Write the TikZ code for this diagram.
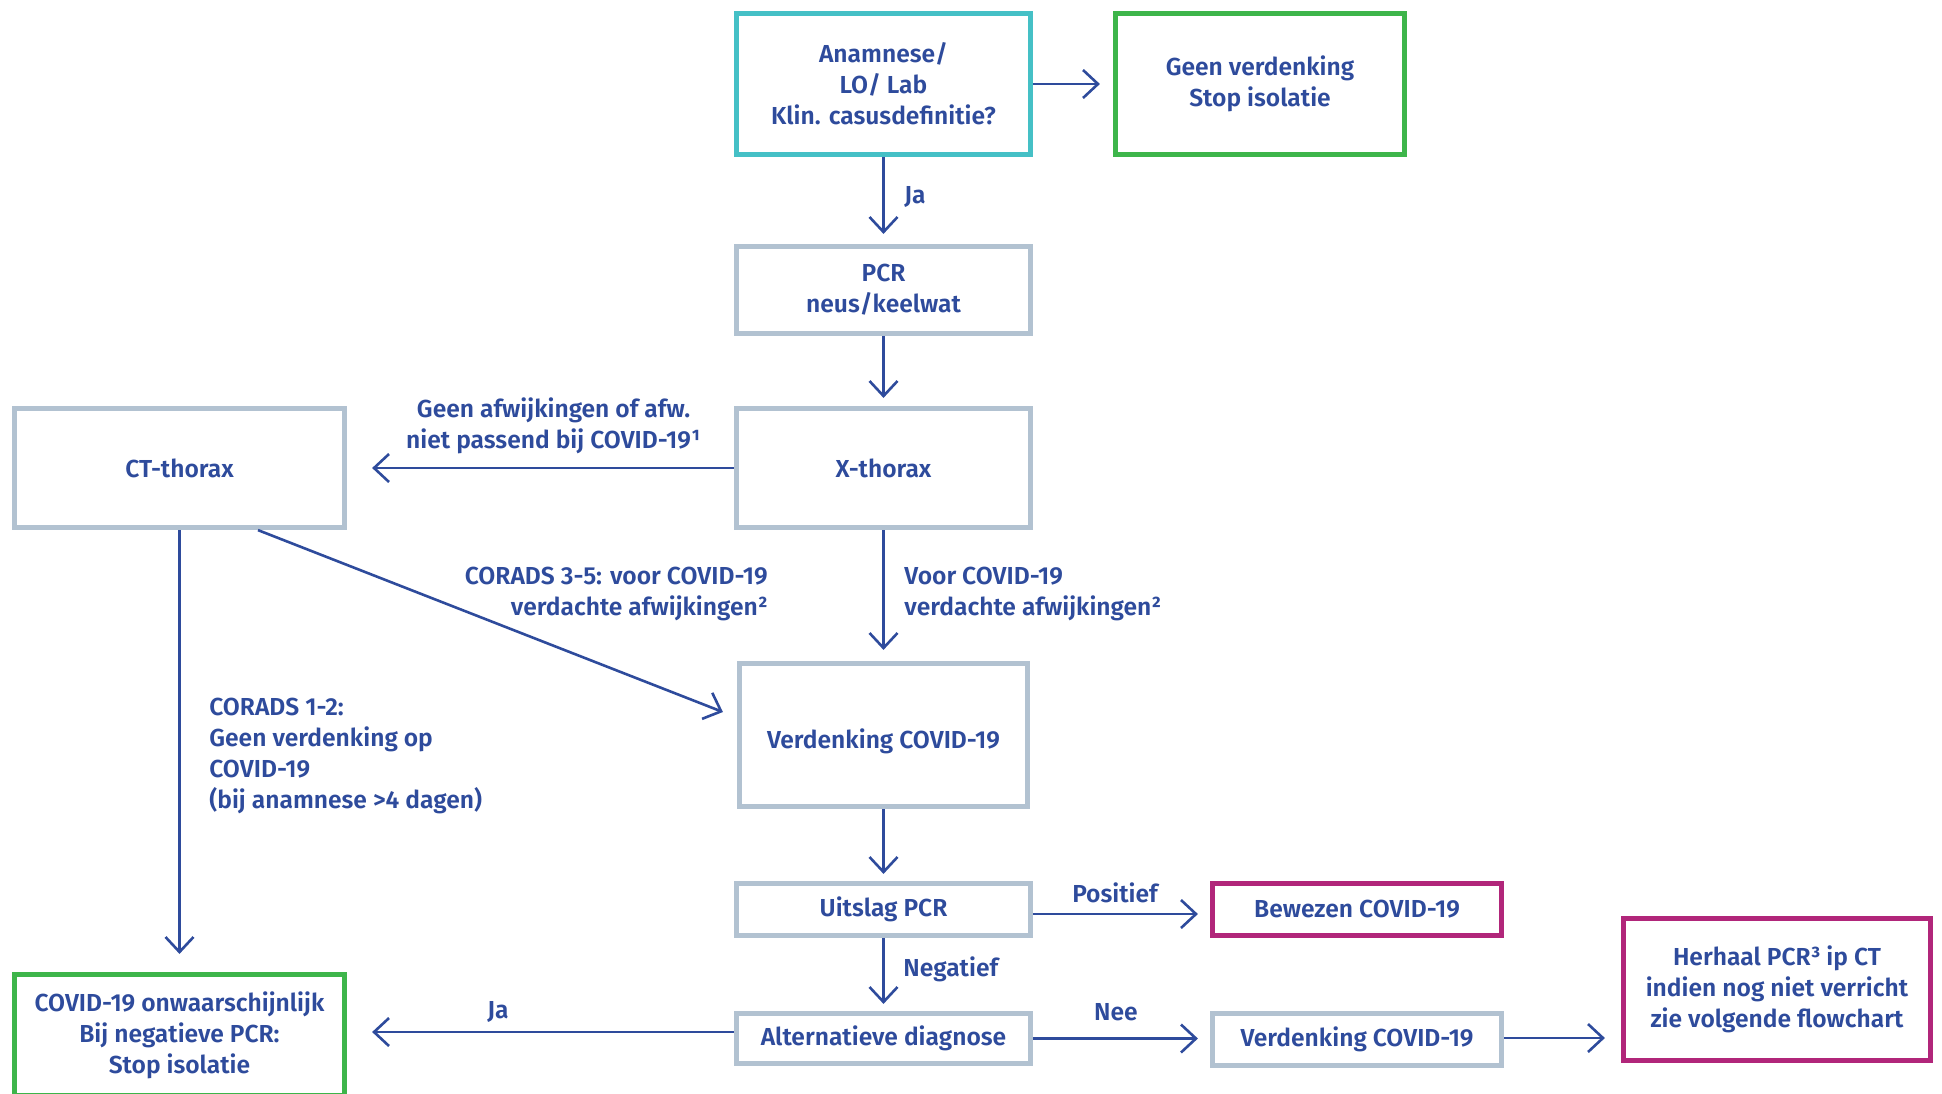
\documentclass[tikz,border=0pt]{standalone}
\usepackage{fontspec}
\setmainfont{Fira Sans SemiBold}
\usetikzlibrary{arrows.meta}
\definecolor{txt}{HTML}{2E4B9C}
\definecolor{graybox}{HTML}{B2C2D1}
\definecolor{cteal}{HTML}{45C0C6}
\definecolor{cgreen}{HTML}{3DB54A}
\definecolor{cmag}{HTML}{B1267A}
\newcommand{\fsz}{\fontsize{12.3}{15.5}\selectfont}
\begin{document}
\begin{tikzpicture}[x=0.5pt,y=-0.5pt,
  box/.style={draw=graybox,line width=2.6pt,align=center,text=txt,inner sep=0pt,font=\fsz},
  arr/.style={draw=txt,line width=1.3pt,-{Straight Barb[length=7.5pt,width=14pt,line width=1.3pt]}},
  lbl/.style={text=txt,font=\fsz,inner sep=0pt}]
\useasboundingbox (0,0) rectangle (1942,1093);
\clip (0,0) rectangle (1942,1093);
% boxes
\node[box,draw=cteal,minimum width=147pt,minimum height=70.5pt] (anam) at (883.5,84) {Anamnese/\\LO/ Lab\\Klin. casusdefinitie?};
\node[box,draw=cgreen,minimum width=144.5pt,minimum height=70.5pt] (geen) at (1260,84) {Geen verdenking\\Stop isolatie};
\node[box,minimum width=147pt,minimum height=43.5pt] (pcr) at (883.5,290) {PCR\\neus/keelwat};
\node[box,minimum width=147pt,minimum height=59.5pt] (xth) at (883.5,468) {X-thorax};
\node[box,minimum width=165pt,minimum height=59.5pt] (ct) at (179.5,468) {CT-thorax};
\node[box,minimum width=144pt,minimum height=71.5pt,label={[lbl,yshift=-3pt]center:Verdenking COVID-19}] (verd) at (883.5,735) {};
\node[box,minimum width=147pt,minimum height=26pt] (uit) at (883.5,909.5) {Uitslag PCR};
\node[box,draw=cmag,minimum width=144.5pt,minimum height=26pt] (bew) at (1357,909.5) {Bewezen COVID-19};
\node[box,minimum width=147pt,minimum height=25pt] (alt) at (883.5,1038.5) {Alternatieve diagnose};
\node[box,minimum width=144.5pt,minimum height=26pt] (verd2) at (1357,1039.5) {Verdenking COVID-19};
\node[box,draw=cmag,minimum width=153.5pt,minimum height=71pt] (herh) at (1777,989.5) {Herhaal PCR³ ip CT\\indien nog niet verricht\\zie volgende flowchart};
\node[box,draw=cgreen,minimum width=165pt,minimum height=60.5pt] (onw) at (179.5,1035) {COVID-19 onwaarschijnlijk\\Bij negatieve PCR:\\Stop isolatie};
% connectors
\draw[arr,shorten >=6.5pt] (anam) -- (geen);
\draw[arr,shorten >=5pt] (anam) -- (pcr);
\draw[arr,shorten >=4pt] (pcr) -- (xth);
\draw[arr,shorten >=12.5pt] (xth) -- (ct);
\draw[arr,shorten >=5.5pt] (xth) -- (verd);
\draw[arr] ([xshift=39.25pt]ct.south) -- ([xshift=-7pt,yshift=11.5pt]verd.west);
\draw[arr,shorten >=9pt] (ct) -- (onw);
\draw[arr,shorten >=3.5pt] (verd) -- (uit);
\draw[arr,shorten >=6pt] ([yshift=-2.25pt]uit.east) -- ([yshift=-2.25pt]bew.west);
\draw[arr,shorten >=3.5pt] (uit) -- (alt);
\draw[arr,shorten >=12.5pt] ([yshift=3.25pt]alt.west) -- ([yshift=3.25pt]alt.west -| onw.east);
\draw[arr,shorten >=6pt] (alt.east) -- (alt.east -| verd2.west);
\draw[arr,shorten >=8pt] ([yshift=0.75pt]verd2.east) -- ([yshift=0.75pt]verd2.east -| herh.west);
% labels
\node[lbl,anchor=west] (lja1) at (904,197) {Ja};
\node[lbl,align=center] (lgeen) at (553.6,426) {Geen afwijkingen of afw.\\niet passend bij COVID-19¹};
\node[lbl,align=right,anchor=east] (lc35) at (768,594) {CORADS 3-5: voor COVID-19\\verdachte afwijkingen²};
\node[lbl,align=left,anchor=west] (lvoor) at (904,594) {Voor COVID-19\\verdachte afwijkingen²};
\node[lbl,align=left,anchor=west] (lc12) at (209,755.5) {CORADS 1-2:\\Geen verdenking op\\COVID-19\\(bij anamnese >4 dagen)};
\node[lbl] (lpos) at (1115,893) {Positief};
\node[lbl,anchor=west] (lneg) at (903,969) {Negatief};
\node[lbl] (lja2) at (498,1012) {Ja};
\node[lbl] (lnee) at (1116,1012) {Nee};
\end{tikzpicture}
\end{document}
